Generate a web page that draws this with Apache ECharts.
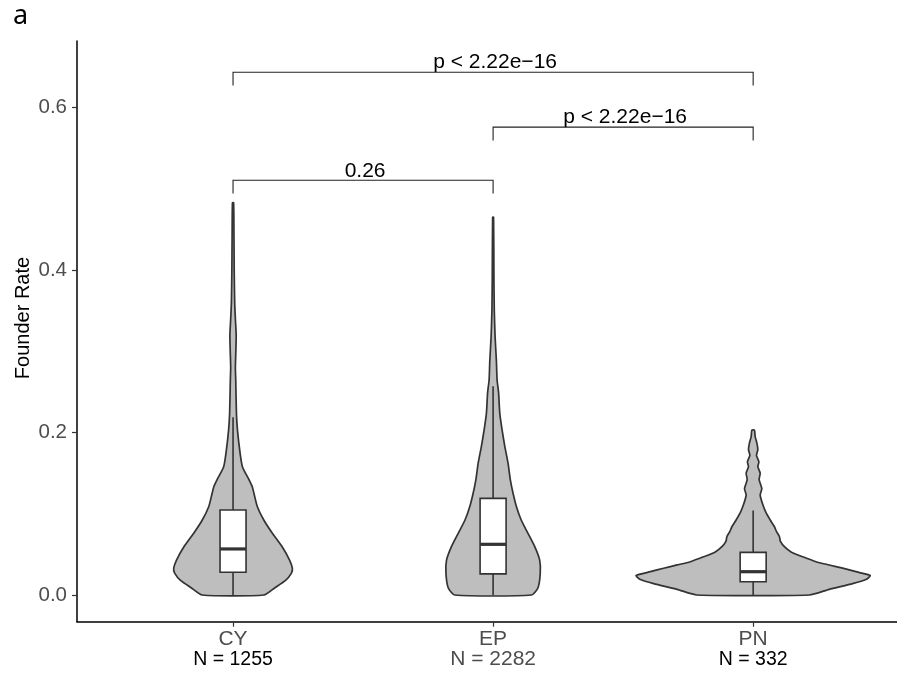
<!DOCTYPE html>
<html>
<head>
<meta charset="utf-8">
<title>Founder Rate</title>
<script src="https://cdn.jsdelivr.net/npm/echarts@6/dist/echarts.min.js"></script>
<style>
  html, body { margin: 0; padding: 0; background: #fff; }
  #chart { width: 897px; height: 676px; }
</style>
</head>
<body>
<div id="chart"></div>
<script>
// groups on the x axis
const categories = ['CY', 'EP', 'PN'];
const groupCounts = [1255, 2282, 332];

// violin outlines: founder rate levels and scaled density (1 = widest violin)
const cyLevels  = [0, 0.009, 0.018, 0.027, 0.033, 0.043, 0.059, 0.076, 0.092, 0.109, 0.125, 0.133, 0.142, 0.158, 0.175, 0.203, 0.224, 0.265, 0.28, 0.30, 0.32, 0.34, 0.36, 0.40, 0.44, 0.483];
const cyDensity = [0.264, 0.358, 0.449, 0.499, 0.507, 0.483, 0.421, 0.336, 0.264, 0.207, 0.179, 0.165, 0.136, 0.080, 0.060, 0.038, 0.029, 0.023, 0.020, 0.024, 0.027, 0.020, 0.014, 0.010, 0.008, 0.005];

const epLevels  = [0, 0.009, 0.027, 0.043, 0.0595, 0.076, 0.092, 0.109, 0.125, 0.142, 0.162, 0.183, 0.203, 0.224, 0.249, 0.265, 0.289, 0.318, 0.351, 0.392, 0.465];
const epDensity = [0.328, 0.384, 0.403, 0.398, 0.356, 0.298, 0.241, 0.199, 0.171, 0.147, 0.128, 0.100, 0.077, 0.057, 0.047, 0.034, 0.028, 0.017, 0.010, 0.007, 0.004];

const pnLevels  = [0, 0.007, 0.014, 0.019, 0.024, 0.0287, 0.033, 0.037, 0.041, 0.047, 0.053, 0.0595, 0.066, 0.072, 0.078, 0.084, 0.092, 0.101, 0.111, 0.123, 0.131, 0.142, 0.150, 0.158, 0.164, 0.172, 0.179, 0.187, 0.195, 0.203];
const pnDensity = [0.480, 0.650, 0.850, 0.963, 1.0, 0.878, 0.765, 0.650, 0.537, 0.424, 0.324, 0.267, 0.233, 0.224, 0.200, 0.182, 0.147, 0.111, 0.083, 0.060, 0.074, 0.051, 0.060, 0.040, 0.049, 0.028, 0.040, 0.032, 0.017, 0.011];

// boxplot statistics per group
const whiskerLow  = [0, 0, 0];
const quartile1   = [0.028, 0.026, 0.0164];
const medians     = [0.0567, 0.0624, 0.0287];
const quartile3   = [0.1047, 0.119, 0.0525];
const whiskerHigh = [0.219, 0.257, 0.104];

// pairwise comparisons (group positions 1..3)
const pairFrom   = [1, 2, 1];
const pairTo     = [2, 3, 3];
const pairY      = [0.5107, 0.576, 0.6437];
const pairLabels = ['0.26', 'p < 2.22e\u221216', 'p < 2.22e\u221216'];
const tipLength  = 0.0165;

const yTicks = [0, 0.2, 0.4, 0.6];
const xTicks = [1, 2, 3];

const violinLevels = [cyLevels, epLevels, pnLevels];
const violinDensity = [cyDensity, epDensity, pnDensity];

const FONT = 'Liberation Sans';
const LINE = '#333333';

function renderGroup(params, api) {
  const i = params.dataIndex;
  const x = i + 1;
  const levels = violinLevels[i];
  const dens = violinDensity[i];
  const halfMax = 0.45;
  const left = [];
  const right = [];
  for (let k = 0; k < levels.length; k++) {
    left.push(api.coord([x - dens[k] * halfMax, levels[k]]));
    right.unshift(api.coord([x + dens[k] * halfMax, levels[k]]));
  }
  const halfBox = 0.05;
  const boxTL = api.coord([x - halfBox, quartile3[i]]);
  const boxBR = api.coord([x + halfBox, quartile1[i]]);
  const medL = api.coord([x - halfBox, medians[i]]);
  const medR = api.coord([x + halfBox, medians[i]]);
  const lowP = api.coord([x, whiskerLow[i]]);
  const highP = api.coord([x, whiskerHigh[i]]);
  return {
    type: 'group',
    children: [
      {
        type: 'polygon',
        shape: { points: left.concat(right), smooth: 0.2 },
        style: { fill: '#BEBEBE', stroke: LINE, lineWidth: 1.7 }
      },
      {
        type: 'line',
        shape: { x1: lowP[0], y1: lowP[1], x2: highP[0], y2: highP[1] },
        style: { stroke: LINE, lineWidth: 1.6 }
      },
      {
        type: 'rect',
        shape: { x: boxTL[0], y: boxTL[1], width: boxBR[0] - boxTL[0], height: boxBR[1] - boxTL[1] },
        style: { fill: '#fff', stroke: LINE, lineWidth: 1.6 }
      },
      {
        type: 'line',
        shape: { x1: medL[0], y1: medL[1], x2: medR[0], y2: medR[1] },
        style: { stroke: LINE, lineWidth: 3.2 }
      }
    ]
  };
}

function renderBracket(params, api) {
  const i = params.dataIndex;
  const a = api.coord([pairFrom[i], pairY[i] - tipLength]);
  const b = api.coord([pairFrom[i], pairY[i]]);
  const c = api.coord([pairTo[i], pairY[i]]);
  const d = api.coord([pairTo[i], pairY[i] - tipLength]);
  return {
    type: 'group',
    children: [
      {
        type: 'polyline',
        shape: { points: [a, b, c, d] },
        style: { stroke: '#222', lineWidth: 1.1, fill: null }
      },
      {
        type: 'text',
        x: (b[0] + c[0]) / 2 + 2,
        y: b[1] + 1,
        style: {
          text: pairLabels[i],
          fill: '#000',
          fontFamily: FONT,
          fontSize: 21,
          align: 'center',
          verticalAlign: 'bottom'
        }
      }
    ]
  };
}

const chart = echarts.init(document.getElementById('chart'), null, { renderer: 'canvas' });

chart.setOption({
  animation: false,
  backgroundColor: '#fff',
  grid: { left: 77, right: -12.2, top: 41, bottom: 54.3, outerBoundsMode: 'none' },
  xAxis: {
    type: 'value',
    min: 0.4,
    max: 3.6,
    splitLine: { show: false },
    axisLine: { show: true, onZero: false, lineStyle: { color: '#000', width: 1.5 } },
    axisTick: { show: true, length: 5, customValues: xTicks, lineStyle: { color: '#333', width: 1.2 } },
    axisLabel: {
      margin: 8,
      customValues: xTicks,
      formatter: function (v) {
        const i = Math.round(v) - 1;
        const nStyle = i === 1 ? 'ng' : 'n';
        return '{c|' + categories[i] + '}\n{' + nStyle + '|N = ' + groupCounts[i] + '}';
      },
      rich: {
        c:  { fontFamily: FONT, fontSize: 21, color: '#4D4D4D', lineHeight: 20 },
        n:  { fontFamily: FONT, fontSize: 19.5, color: '#000', lineHeight: 20 },
        ng: { fontFamily: FONT, fontSize: 21, color: '#4D4D4D', lineHeight: 20 }
      }
    }
  },
  yAxis: {
    type: 'value',
    min: -0.03287,
    max: 0.6821,
    splitLine: { show: false },
    axisLine: { show: true, onZero: false, lineStyle: { color: '#000', width: 1.5 } },
    axisTick: { show: true, length: 5, customValues: yTicks, lineStyle: { color: '#333', width: 1.2 } },
    axisLabel: {
      margin: 10,
      customValues: yTicks,
      color: '#4D4D4D',
      fontFamily: FONT,
      fontSize: 20.5,
      formatter: function (v) { return v.toFixed(1); }
    }
  },
  graphic: [
    {
      type: 'text',
      x: 13,
      y: 16,
      style: { text: 'a', fontFamily: 'Noto Sans', fontSize: 27, fill: '#000', verticalAlign: 'middle' }
    },
    {
      type: 'text',
      x: 23,
      y: 318,
      rotation: Math.PI / 2,
      style: { text: 'Founder Rate', fontFamily: FONT, fontSize: 20, fill: '#000', align: 'center', verticalAlign: 'middle' }
    }
  ],
  series: [
    {
      type: 'custom',
      renderItem: renderGroup,
      data: categories.map(function (c, i) { return [i + 1, whiskerHigh[i]]; }),
      encode: { x: 0, y: 1 },
      z: 2
    },
    {
      type: 'custom',
      renderItem: renderBracket,
      data: pairLabels.map(function (l, i) { return [pairFrom[i], pairY[i]]; }),
      encode: { x: 0, y: 1 },
      z: 3
    }
  ]
});
</script>
</body>
</html>
